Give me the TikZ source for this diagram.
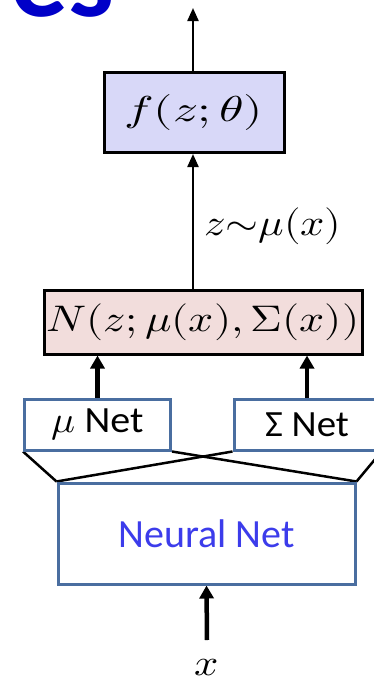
\documentclass[tikz,border=0pt]{standalone}
\usepackage{unicode-math}
\setmathfont{Latin Modern Math}
\newfontfamily\calibri{Carlito}
\usetikzlibrary{arrows.meta,calc}
\definecolor{fboxfill}{RGB}{216,216,248}
\definecolor{nboxfill}{RGB}{242,221,220}
\definecolor{netblue}{RGB}{74,110,160}
\definecolor{nntext}{RGB}{60,60,235}
\definecolor{titleblue}{RGB}{0,0,200}
\newcommand{\wide}[2]{\scalebox{#1}[1]{#2}}
\newcommand{\mulabel}{\wide{1.08}{$\mu$ Net}}
\newcommand{\siglabel}{\wide{1.05}{Σ Net}}
\tikzset{
  mathbox/.style={draw=black,line width=3pt,inner sep=0pt,minimum width=#1},
  netbox/.style={draw=netblue,line width=3pt,fill=white,inner sep=0pt},
  thinarrow/.style={line width=2.2pt,-{Triangle[width=11pt,length=13pt]}},
  thickarrow/.style={line width=4.5pt,-{Triangle[width=14pt,length=13pt]}},
  fanline/.style={line width=2.5pt,black},
  mathtext/.style={font=\fontsize{#1}{#1}\selectfont},
  nettext/.style={font=\calibri\fontsize{37}{40}\selectfont},
  nntextstyle/.style={text=nntext,font=\calibri\fontsize{40}{44}\selectfont},
}
\begin{document}
\begin{tikzpicture}[x=1pt,y=-1pt]
\useasboundingbox (0,0) rectangle (374,686);
\clip (0,0) rectangle (374,686);
\fill[white] (0,0) rectangle (374,686);
% cropped title fragment
\node[anchor=base west,inner sep=0pt,text=titleblue,font=\calibri\bfseries\fontsize{115}{115}\selectfont] (title) at (10,16) {es};
% boxes
\node[mathbox=180pt,minimum height=80pt,fill=fboxfill,mathtext=36] (f) at (194,112.5) {\wide{1.38}{$f(z;\theta)$}};
\node[mathbox=318pt,minimum height=64pt,fill=nboxfill,mathtext=37] (N) at (203,322) {\wide{1.19}{$N(z;\mu(x),\Sigma(x))$}};
\node[netbox,minimum width=146pt,minimum height=51pt,nettext] (mu) at (97.5,424.5) {\mulabel};
\node[netbox,minimum width=146pt,minimum height=51pt,nettext] (sig) at (307,424.5) {\siglabel};
\node[netbox,minimum width=297pt,minimum height=101pt,nntextstyle] (nn) at (206.5,533.5) {Neural Net};
\node[inner sep=0pt,mathtext=37] (xl) at (207,668) {\wide{1.15}{$x$}};
\node[inner sep=0pt,mathtext=37] (zl) at (273,226) {\wide{1.15}{$z{\sim}\mu(x)$}};
\coordinate (top) at (193,8);
\coordinate (xs) at (207,640);
% connectors
\draw[thinarrow] (top |- f.north) -- (top);
\draw[thinarrow] (top |- N.north) -- (top |- f.south);
\draw[thickarrow] (mu.north) -- (mu.north |- N.south);
\draw[thickarrow] (sig.north) -- (sig.north |- N.south);
\draw[thickarrow] (xs) -- (nn.south);
\draw[fanline] (mu.south west) -- (nn.north west);
\draw[fanline] (mu.south east) -- (nn.north east);
\draw[fanline] (sig.south west) -- (nn.north west);
\draw[fanline] (sig.south east) -- (nn.north east);
% redraw boxes on top of fan lines
\node[netbox,minimum width=146pt,minimum height=51pt,nettext] at (mu) {\mulabel};
\node[netbox,minimum width=146pt,minimum height=51pt,nettext] at (sig) {\siglabel};
\node[netbox,minimum width=297pt,minimum height=101pt,nntextstyle] at (nn) {Neural Net};
\end{tikzpicture}
\end{document}
